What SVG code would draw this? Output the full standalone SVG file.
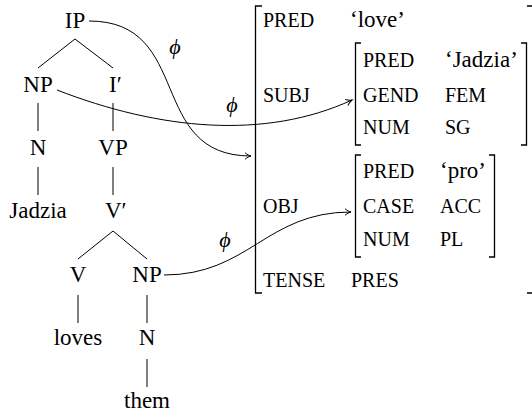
<svg xmlns="http://www.w3.org/2000/svg" width="532" height="414" viewBox="0 0 532 414">
<defs>
<marker id="arr" markerUnits="userSpaceOnUse" markerWidth="10" markerHeight="10" refX="0" refY="0" orient="auto" overflow="visible" viewBox="-8 -5 10 10">
<path d="M-6,-3.3 C-4,-1.5 -1.5,-0.4 0,0 C-1.5,0.4 -4,1.5 -6,3.3" stroke="#000" stroke-width="1" fill="none"/>
</marker>
</defs>
<rect width="532" height="414" fill="#fff"/>

<g id="ip"><text font-family="Liberation Serif" font-size="23" text-anchor="middle" x="75" y="28">IP</text></g>
<g id="np1"><text font-family="Liberation Serif" font-size="23" text-anchor="middle" x="38" y="92">NP</text></g>
<g id="ibar"><text font-family="Liberation Serif" font-size="23" x="109" y="92">I′</text></g>
<g id="n1"><text font-family="Liberation Serif" font-size="23" text-anchor="middle" x="38" y="155">N</text></g>
<g id="vp"><text font-family="Liberation Serif" font-size="23" text-anchor="middle" x="113" y="155">VP</text></g>
<g id="jadzia"><text font-family="Liberation Serif" font-size="23" text-anchor="middle" x="38" y="218">Jadzia</text></g>
<g id="vbar"><text font-family="Liberation Serif" font-size="23" x="105" y="218">V′</text></g>
<g id="v"><text font-family="Liberation Serif" font-size="23" text-anchor="middle" x="78" y="282">V</text></g>
<g id="np2"><text font-family="Liberation Serif" font-size="23" text-anchor="middle" x="147" y="282">NP</text></g>
<g id="loves"><text font-family="Liberation Serif" font-size="23" text-anchor="middle" x="78" y="345">loves</text></g>
<g id="n2"><text font-family="Liberation Serif" font-size="23" text-anchor="middle" x="147" y="345">N</text></g>
<g id="them"><text font-family="Liberation Serif" font-size="23" text-anchor="middle" x="147" y="408">them</text></g>

<g id="fs-outer">
<path d="M262,6 H255.5 V293 H262" stroke="#000" stroke-width="1.3" fill="none"/>
<path d="M527,6 H533.5 V293 H527" stroke="#000" stroke-width="1.3" fill="none"/>
<text font-family="Liberation Serif" font-size="20" x="263" y="27">PRED</text>
<text font-family="Liberation Serif" font-size="23" x="350" y="27">‘love’</text>
<text font-family="Liberation Serif" font-size="20" x="263" y="102">SUBJ</text>
<text font-family="Liberation Serif" font-size="20" x="263" y="213">OBJ</text>
<text font-family="Liberation Serif" font-size="20" x="263" y="287">TENSE</text>
<text font-family="Liberation Serif" font-size="20" x="351" y="287">PRES</text>
</g>

<g id="fs-subj">
<path d="M361,43 H355.5 V145 H361" stroke="#000" stroke-width="1.3" fill="none"/>
<path d="M521,43 H526.5 V145 H521" stroke="#000" stroke-width="1.3" fill="none"/>
<text font-family="Liberation Serif" font-size="20" x="363" y="67">PRED</text>
<text font-family="Liberation Serif" font-size="23" x="445" y="67">‘Jadzia’</text>
<text font-family="Liberation Serif" font-size="20" x="363" y="102">GEND</text>
<text font-family="Liberation Serif" font-size="20" x="445" y="102">FEM</text>
<text font-family="Liberation Serif" font-size="20" x="363" y="134">NUM</text>
<text font-family="Liberation Serif" font-size="20" x="445" y="134">SG</text>
</g>

<g id="fs-obj">
<path d="M361,155 H355.5 V257 H361" stroke="#000" stroke-width="1.3" fill="none"/>
<path d="M489,155 H494.5 V257 H489" stroke="#000" stroke-width="1.3" fill="none"/>
<text font-family="Liberation Serif" font-size="20" x="363" y="178">PRED</text>
<text font-family="Liberation Serif" font-size="23" x="440" y="178">‘pro’</text>
<text font-family="Liberation Serif" font-size="20" x="363" y="213">CASE</text>
<text font-family="Liberation Serif" font-size="20" x="440" y="213">ACC</text>
<text font-family="Liberation Serif" font-size="20" x="363" y="246">NUM</text>
<text font-family="Liberation Serif" font-size="20" x="440" y="246">PL</text>
</g>

<g id="connectors" stroke="#000" stroke-width="1" fill="none">
<path d="M75,39 L38,68 M75,39 L113,68"/>
<path d="M38,103 V131 M38,167 V195"/>
<path d="M113,103 V131 M113,167 V195"/>
<path d="M113,231 L78,259 M113,231 L147,259"/>
<path d="M78,295 V323 M147,295 V323 M147,359 V387"/>
<path d="M89,21 C194,21 146,156 251,156" marker-end="url(#arr)"/>
<path d="M57,90 C160,130 265,140 352,100" marker-end="url(#arr)"/>
<path d="M164,275 C249,275 266,212 351,212" marker-end="url(#arr)"/>
<text font-family="Liberation Serif" font-size="22" font-style="italic" text-anchor="middle" fill="#000" stroke="none" x="175" y="54">ϕ</text>
<text font-family="Liberation Serif" font-size="22" font-style="italic" text-anchor="middle" fill="#000" stroke="none" x="232" y="112">ϕ</text>
<text font-family="Liberation Serif" font-size="22" font-style="italic" text-anchor="middle" fill="#000" stroke="none" x="225" y="247">ϕ</text>
</g>
</svg>
